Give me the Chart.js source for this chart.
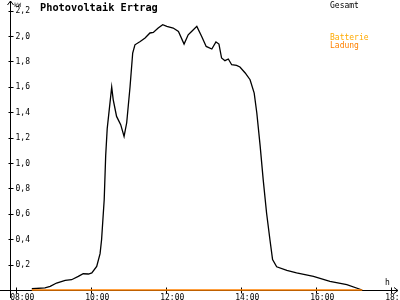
<!DOCTYPE html>
<html><head><meta charset="utf-8">
<script src="https://cdn.jsdelivr.net/npm/chart.js@4/dist/chart.umd.min.js"></script>
<style>
html,body{margin:0;padding:0;background:#fff;}
#wrap{position:relative;width:400px;height:300px;overflow:hidden;background:#fff;}
canvas{position:absolute;left:0;top:0;}
.t{position:absolute;font-family:"DejaVu Sans Mono",monospace;white-space:nowrap;line-height:10px;}
</style></head><body>
<div id="wrap">
<canvas id="c" width="400" height="300"></canvas>
<div class="t" style="left:40px;top:1.5px;font-size:10.3px;font-weight:bold;color:#000">Photovoltaik Ertrag</div>
<div class="t" style="left:330px;top:0.5px;font-size:8px;color:#000">Gesamt</div>
<div class="t" style="left:330px;top:32.5px;font-size:8px;color:#ffaa00">Batterie</div>
<div class="t" style="left:330px;top:40.5px;font-size:8px;color:#ff8000">Ladung</div>
</div>
<script>
// Gesamt (total) power, hours of day and kW
const gesamtHours = [8.43,8.78,8.92,9.09,9.32,9.49,9.67,9.80,9.94,10.03,10.16,10.25,10.29,10.36,10.40,10.44,
  10.56,10.60,10.69,10.80,10.89,10.96,11.05,11.12,11.18,11.32,11.45,11.58,11.67,11.80,11.92,12.03,12.20,
  12.34,12.49,12.60,12.69,12.83,12.96,13.08,13.23,13.34,13.42,13.49,13.58,13.67,13.76,13.89,13.98,14.12,
  14.25,14.36,14.43,14.52,14.60,14.69,14.78,14.85,14.96,15.23,15.49,15.94,16.38,16.83,17.24];
const gesamtKW = [0.01,0.016,0.028,0.055,0.076,0.081,0.107,0.128,0.126,0.134,0.186,0.286,0.396,0.711,1.06,1.27,
  1.598,1.50,1.367,1.302,1.209,1.317,1.603,1.866,1.931,1.957,1.984,2.024,2.028,2.063,2.089,2.076,2.063,
  2.036,1.937,2.010,2.036,2.076,1.997,1.918,1.898,1.953,1.937,1.827,1.806,1.819,1.774,1.769,1.756,1.709,
  1.656,1.551,1.394,1.131,0.869,0.606,0.396,0.239,0.183,0.154,0.134,0.107,0.068,0.042,0.0];
// Batterie Ladung (battery charge)
const ladungHours = [8.43,17.24];
const ladungKW = [0,0];
// ticks
const yTickValues = [0.2,0.4,0.6,0.8,1.0,1.2,1.4,1.6,1.8,2.0,2.2];
const yTickLabels = ['0,2','0,4','0,6','0,8','1,0','1,2','1,4','1,6','1,8','2,0','2,2'];
const xTickValues = [8,10,12,14,16,18];
const xTickLabels = ['08:00','10:00','12:00','14:00','16:00','18:00'];
const yUnit = 'kW';
const xUnit = 'h';

const toPts = (xs, ys) => xs.map((x, i) => ({x, y: ys[i]}));

const axesPlugin = {
  id: 'axesPlugin',
  beforeDatasetsDraw(chart) {
    const ctx = chart.ctx, xs = chart.scales.x, ys = chart.scales.y;
    const x0 = Math.round(xs.left) + 0.5, y0 = Math.round(ys.bottom) + 0.5;
    ctx.save();
    ctx.strokeStyle = '#000'; ctx.fillStyle = '#000'; ctx.lineWidth = 1;
    ctx.beginPath();
    ctx.moveTo(x0, 298); ctx.lineTo(x0, 1);
    ctx.moveTo(x0 - 3, 5); ctx.lineTo(x0, 1); ctx.lineTo(x0 + 3, 5);
    ctx.moveTo(0, y0); ctx.lineTo(398, y0);
    ctx.moveTo(394, y0 - 3); ctx.lineTo(398, y0); ctx.lineTo(394, y0 + 3);
    yTickValues.forEach(v => {
      const py = Math.round(ys.getPixelForValue(v)) + 0.5;
      ctx.moveTo(x0 - 2, py); ctx.lineTo(x0 + 3, py);
    });
    xTickValues.forEach(v => {
      const px = Math.round(xs.getPixelForValue(v)) + 0.5;
      ctx.moveTo(px, y0 - 3); ctx.lineTo(px, y0 + 3);
    });
    ctx.stroke();
    ctx.font = '8px "DejaVu Sans Mono", monospace';
    ctx.textAlign = 'left'; ctx.textBaseline = 'middle';
    yTickValues.forEach((v, i) => {
      ctx.fillText(yTickLabels[i], x0 + 5, ys.getPixelForValue(v) + 0.5);
    });
    ctx.textBaseline = 'alphabetic';
    xTickValues.forEach((v, i) => {
      ctx.fillText(xTickLabels[i], xs.getPixelForValue(v) - 5.5, 300);
    });
    ctx.fillText(xUnit, 385, 285);
    ctx.font = '6px "DejaVu Sans Mono", monospace';
    ctx.fillText(yUnit, 14, 7);
    ctx.restore();
  }
};

new Chart(document.getElementById('c'), {
  type: 'line',
  data: {
    datasets: [
      { label: 'Batterie Ladung', data: toPts(ladungHours, ladungKW), borderColor: '#ff8000',
        borderWidth: 1.3, pointRadius: 0, tension: 0, clip: false },
      { label: 'Gesamt', data: toPts(gesamtHours, gesamtKW), borderColor: '#000000',
        borderWidth: 1.3, pointRadius: 0, tension: 0, clip: false }
    ]
  },
  options: {
    responsive: false, animation: false, devicePixelRatio: 1,
    layout: { padding: { left: 10, right: 2, top: 2, bottom: 10 } },
    plugins: { legend: { display: false }, tooltip: { enabled: false }, title: { display: false } },
    scales: {
      x: { type: 'linear', display: false, min: 7.848, max: 18.195 },
      y: { type: 'linear', display: false, min: 0, max: 2.268 }
    }
  },
  plugins: [axesPlugin]
});
</script>
</body></html>
